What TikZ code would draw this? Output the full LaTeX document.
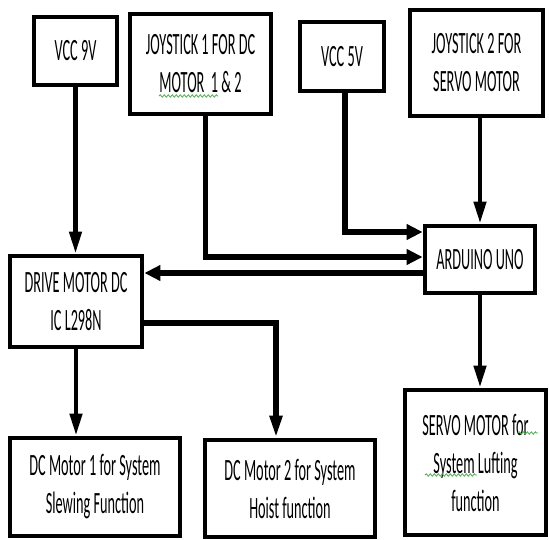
\documentclass[tikz,border=0pt]{standalone}
\usepackage{fontspec}
\newfontfamily\diagfont[FakeStretch=0.46]{Carlito}
\usepackage{xcolor}
\usepackage{tikz}
\usetikzlibrary{positioning,arrows.meta,decorations.pathmorphing}
\definecolor{ink}{HTML}{000000}
\definecolor{spell}{HTML}{4CAF50}
\tikzset{
  blockbox/.style={draw=ink, line width=2.4pt, fill=white, align=center, inner sep=2pt,
    font=\diagfont\fontsize{15.5}{19}\selectfont},
  downtip/.style={-{Triangle[length=11pt,width=6pt]}},
  sidetip/.style={-{Triangle[length=8pt,width=7.5pt]}},
  downarrow/.style={draw=ink, line width=2.2pt, downtip},
  sidearrow/.style={draw=ink, line width=3.3pt, sidetip},
  bendline/.style={draw=ink, line width=2.6pt},
  spellmark/.style={draw=spell, line width=0.4pt, decorate,
    decoration={snake, amplitude=0.6pt, segment length=2pt}}
}

\begin{document}
\begin{tikzpicture}[x=0.5pt, y=-0.5pt]
\useasboundingbox (0,0) rectangle (549,539);

\node[blockbox, minimum width=41.5pt, minimum height=34pt] (vccnine) at (75.5,51) {VCC 9V};
\node[blockbox, minimum width=70.5pt, minimum height=50pt] (joyone) at (200.5,64) {JOYSTICK 1 FOR DC\\MOTOR~~1 \& 2};
\node[blockbox, minimum width=42pt, minimum height=34.5pt] (vccfive) at (342,56.5) {VCC 5V};
\node[blockbox, minimum width=66.5pt, minimum height=53pt] (joytwo) at (476.5,63) {JOYSTICK 2 FOR\\SERVO MOTOR};
\node[blockbox, minimum width=55pt, minimum height=33.5pt] (arduino) at (480,259.5) {ARDUINO UNO};
\node[blockbox, minimum width=66pt, minimum height=45.5pt] (driver) at (76,301.5) {DRIVE MOTOR DC\\IC L298N};
\node[blockbox, minimum width=85pt, minimum height=49pt] (motorone) at (95,487) {DC Motor 1 for System\\Slewing Function};
\node[blockbox, minimum width=85pt, minimum height=48.5pt] (motortwo) at (290,488.5) {DC Motor 2 for System\\Hoist function};
\node[blockbox, minimum width=70.5pt, minimum height=72.5pt] (servo) at (475.5,462.5) {SERVO MOTOR for\\System Lufting\\function};

\draw[downarrow] (vccnine.south) -- (vccnine.south |- driver.north);
\draw[bendline, sidetip] ([xshift=2.5pt]joyone.south) |- ([yshift=1.25pt]arduino.west);
\draw[bendline, sidetip] ([xshift=1.5pt]vccfive.south) |- ([yshift=13.75pt]arduino.west);
\draw[downarrow] (joytwo.south -| arduino.north) -- (arduino.north);
\draw[sidearrow] ([yshift=-6.75pt]arduino.west) -- ([yshift=-6.75pt]arduino.west -| driver.east);
\draw[downarrow] (driver.south) -- (driver.south |- motorone.north);
\draw[bendline, downtip] ([yshift=-10.75pt]driver.east) -| ([xshift=-7pt]motortwo.north);
\draw[downarrow] (arduino.south) -- (arduino.south |- servo.north);

\draw[spellmark] (159,96) -- (218,96);
\draw[spellmark] (518,433) -- (538,433);
\draw[spellmark] (425,475) -- (477,475);
\end{tikzpicture}
\end{document}
